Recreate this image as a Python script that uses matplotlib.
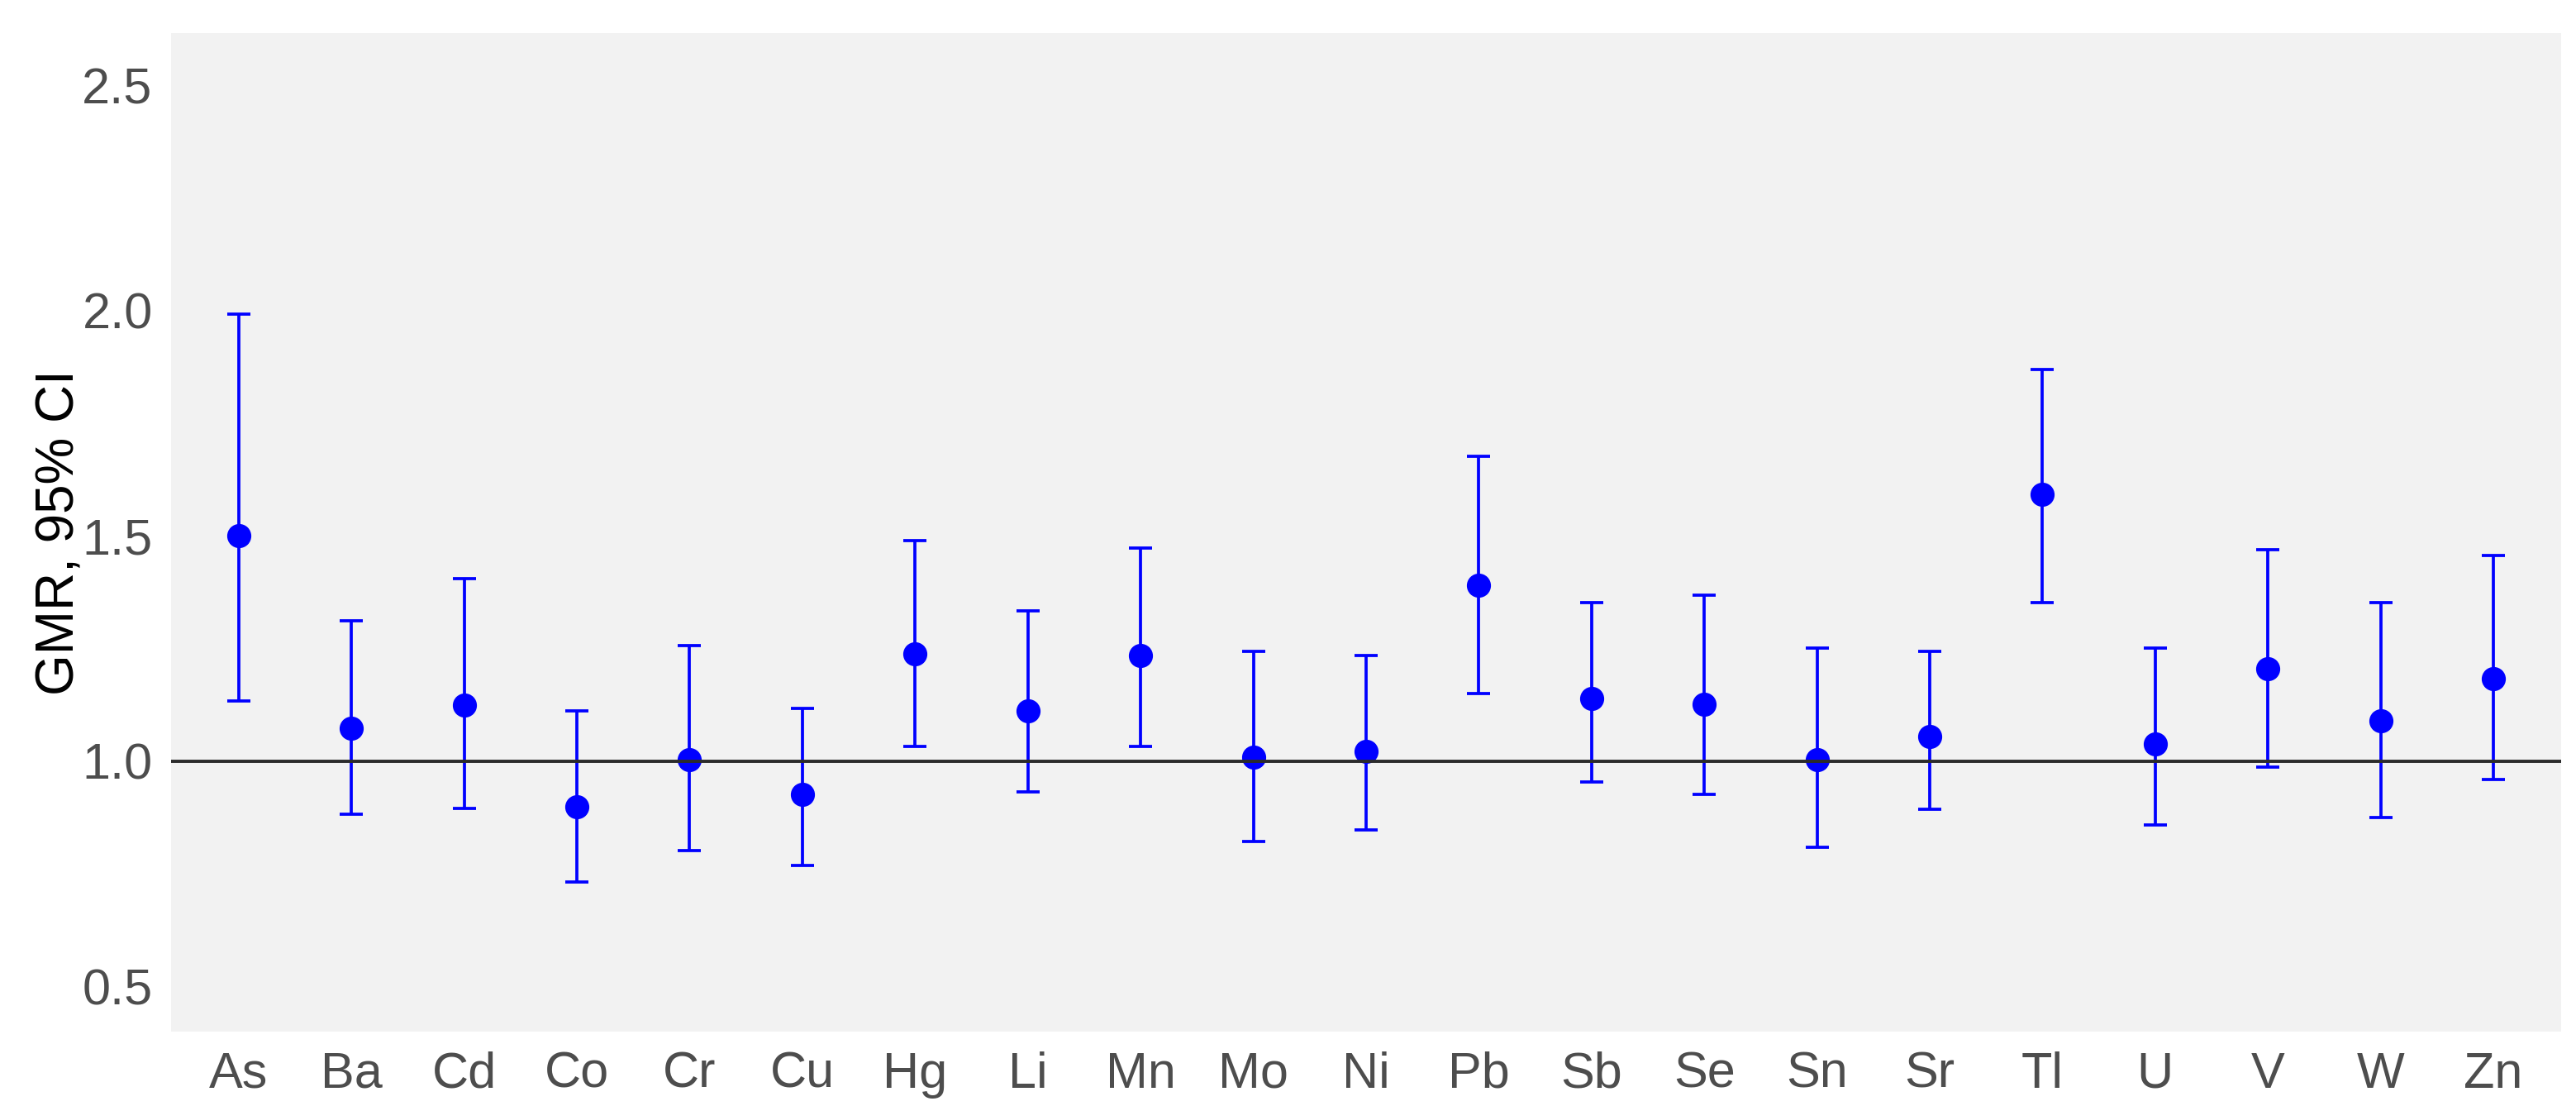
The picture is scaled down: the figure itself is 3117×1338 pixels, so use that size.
import numpy as np
import matplotlib.pyplot as plt

# metals and GMR estimates with 95% CI
metals = ['As', 'Ba', 'Cd', 'Co', 'Cr', 'Cu', 'Hg', 'Li', 'Mn', 'Mo', 'Ni',
          'Pb', 'Sb', 'Se', 'Sn', 'Sr', 'Tl', 'U', 'V', 'W', 'Zn']
gmr = [1.50, 1.073, 1.125, 0.899, 1.004, 0.926, 1.239, 1.111, 1.234, 1.009, 1.021,
       1.39, 1.139, 1.126, 1.004, 1.055, 1.592, 1.038, 1.205, 1.089, 1.183]
ci_low = [1.133, 0.883, 0.895, 0.732, 0.802, 0.769, 1.033, 0.932, 1.033, 0.821, 0.848,
          1.15, 0.954, 0.926, 0.809, 0.893, 1.352, 0.859, 0.987, 0.876, 0.960]
ci_high = [1.992, 1.3125, 1.406, 1.111, 1.257, 1.117, 1.49, 1.334, 1.474, 1.244, 1.234,
           1.676, 1.352, 1.368, 1.251, 1.244, 1.870, 1.251, 1.469, 1.352, 1.457]

plt.rcParams['font.family'] = ['Liberation Sans', 'DejaVu Sans']

x = np.arange(len(metals))
gmr = np.array(gmr)
err = np.array([gmr - np.array(ci_low), np.array(ci_high) - gmr])

fig = plt.figure(figsize=(31.17, 13.38), dpi=100)
ax = fig.add_axes([0.0664, 0.0673, 0.9278, 0.9027])
ax.set_facecolor('#f2f2f2')

ax.errorbar(x, gmr, yerr=err, fmt='o', color='#0000ff', markersize=20,
            elinewidth=2.7, capsize=10, capthick=2.7, zorder=2)
ax.axhline(1.0, color='#2b2b2b', linewidth=2.8, zorder=3)

ax.set_xlim(-0.6, len(metals) - 0.4)
ax.set_ylim(0.40, 2.616)
ax.set_xticks(x)
ax.set_xticklabels(metals)
ax.set_yticks([0.5, 1.0, 1.5, 2.0, 2.5])
ax.set_yticklabels(['0.5', '1.0', '1.5', '2.0', '2.5'])
ax.tick_params(axis='both', length=0, labelsize=44, colors='#4d4d4d')
ax.tick_params(axis='x', pad=17)
ax.tick_params(axis='y', pad=16)

for s in ax.spines.values():
    s.set_visible(False)

ax.set_ylabel('GMR, 95% CI', fontsize=46, color='black')
ax.yaxis.set_label_coords(-0.036, 0.5)

fig.savefig('out.png', dpi=100)
